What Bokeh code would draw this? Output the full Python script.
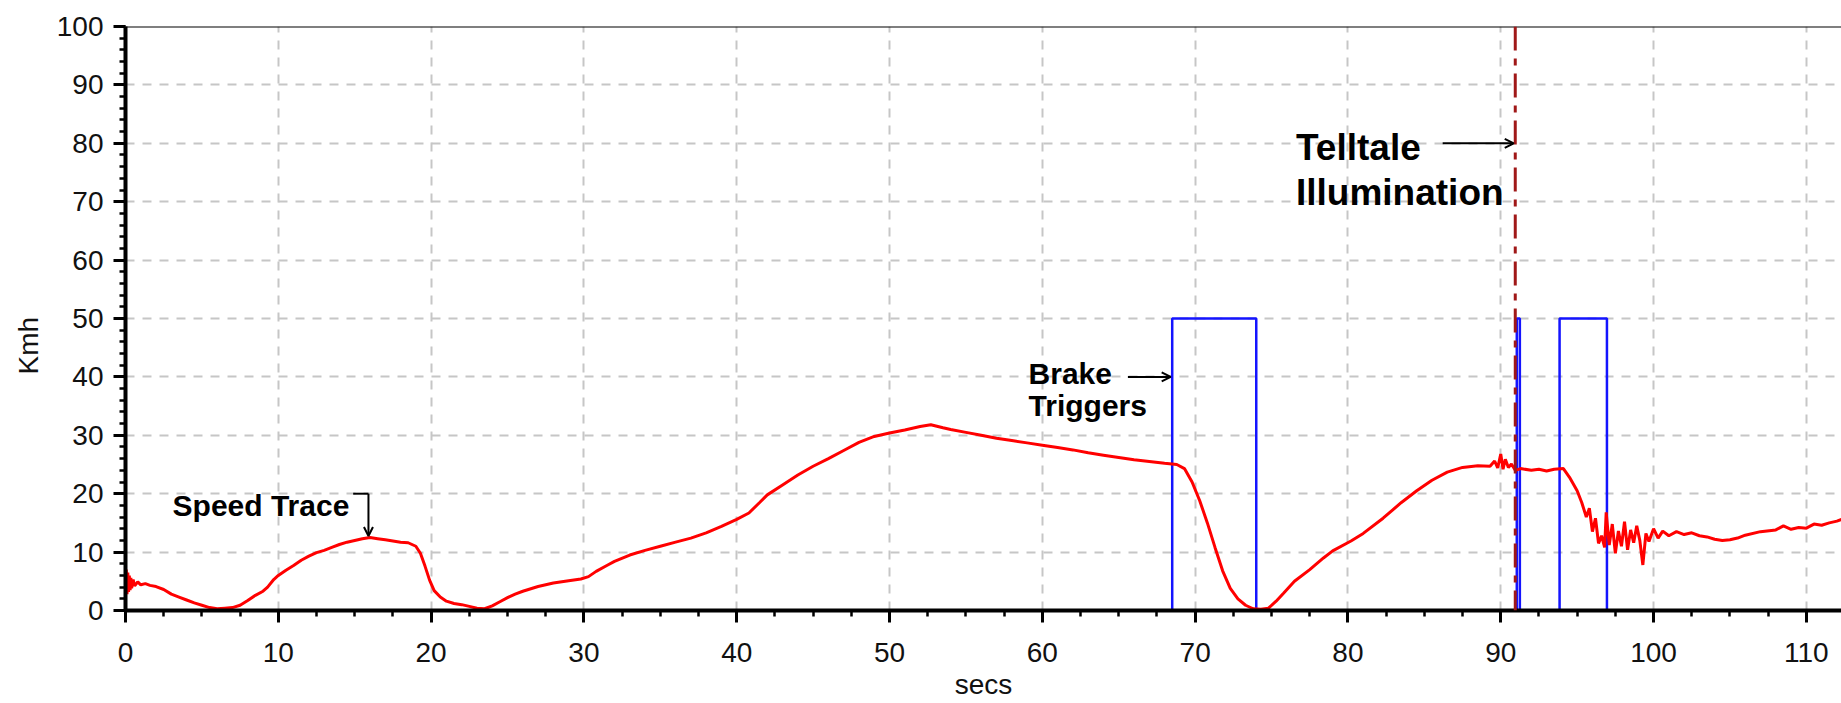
import numpy as np
from bokeh.plotting import figure
from bokeh.models import Range1d, SingleIntervalTicker, Span, Arrow, OpenHead, Title
from bokeh.core.properties import value
from bokeh.embed import file_html
from bokeh.resources import INLINE

# Vehicle speed over the run (secs, Kmh)
time_s = [
    0.0, 0.05, 0.1, 0.15, 0.2, 0.25, 0.3, 0.35, 0.4, 0.5, 0.6, 0.8, 1.0, 1.3, 1.6,
    2.0, 2.5, 3.0, 3.5, 4.0, 4.5, 5.0, 5.5, 6.0, 6.5, 7.0, 7.5, 8.0, 8.5, 9.0,
    9.3, 9.7, 10.0, 10.5, 11.0, 11.5, 12.0, 12.5, 13.0, 13.5, 14.0, 14.5, 15.0,
    15.5, 16.0, 16.5, 17.0, 17.5, 18.0, 18.5, 19.0, 19.3, 19.6, 19.9, 20.2, 20.6,
    21.0, 21.5, 22.0, 22.5, 23.0, 23.5, 24.0, 24.5, 25.0, 25.5, 26.0, 27.0, 28.0,
    29.0, 29.8, 30.3, 30.8, 31.5, 32.0, 33.0, 34.0, 35.0, 36.0, 37.0, 38.0, 39.0,
    40.0, 40.8, 41.5, 42.0, 43.0, 44.0, 45.0, 46.0, 47.0, 48.0, 49.0, 50.0, 51.0,
    52.0, 52.7, 53.5, 54.0, 55.0, 56.0, 57.0, 58.0, 59.0, 60.0, 61.0, 62.0, 63.0,
    64.0, 65.0, 66.0, 67.0, 68.0, 68.8, 69.3, 69.8, 70.3, 70.8, 71.3, 71.8, 72.3,
    72.8, 73.3, 73.8, 74.3, 74.8, 75.3, 75.8, 76.5, 77.5, 78.4, 79.0, 80.2, 81.0,
    82.3, 83.5, 84.5, 85.5, 86.5, 87.5, 88.5, 89.3, 89.6, 89.8, 90.0, 90.15, 90.3,
    90.5, 90.7, 90.95, 91.3, 92.0, 92.5, 93.0, 93.5, 94.1, 94.5, 95.0, 95.3, 95.6,
    95.8, 96.0, 96.2, 96.4, 96.6, 96.8, 96.9, 97.1, 97.3, 97.5, 97.7, 97.9, 98.1,
    98.3, 98.5, 98.7, 98.9, 99.1, 99.3, 99.5, 99.7, 100.0, 100.3, 100.6, 101.0,
    101.5, 102.0, 102.5, 103.0, 103.5, 104.0, 104.5, 105.0, 105.5, 106.0, 107.0,
    108.0, 108.5, 109.0, 109.5, 110.0, 110.5, 111.0, 111.5, 112.0, 112.3,
]
speed_kmh = [
    3.0, 7.0, 2.8, 6.5, 3.2, 6.0, 3.5, 5.6, 3.8, 5.3, 4.2, 4.9, 4.4, 4.6, 4.3,
    4.1, 3.6, 2.8, 2.3, 1.8, 1.3, 0.9, 0.5, 0.3, 0.4, 0.5, 0.9, 1.7, 2.6, 3.3,
    4.0, 5.3, 6.0, 6.9, 7.7, 8.6, 9.3, 9.9, 10.3, 10.8, 11.3, 11.7, 12.0,
    12.3, 12.5, 12.3, 12.1, 11.9, 11.7, 11.6, 11.0, 9.8, 7.6, 5.2, 3.4, 2.3,
    1.6, 1.2, 1.0, 0.7, 0.4, 0.3, 0.8, 1.5, 2.2, 2.8, 3.3, 4.1, 4.7,
    5.1, 5.4, 5.8, 6.7, 7.7, 8.4, 9.5, 10.3, 11.0, 11.7, 12.4, 13.3, 14.4,
    15.6, 16.7, 18.5, 19.8, 21.5, 23.2, 24.7, 26.0, 27.4, 28.8, 29.8, 30.4, 30.9,
    31.5, 31.8, 31.3, 31.0, 30.5, 30.0, 29.5, 29.1, 28.7, 28.3, 27.9, 27.5, 27.0,
    26.6, 26.2, 25.8, 25.5, 25.2, 25.0, 24.3, 22.0, 18.8, 15.0, 10.8, 6.8, 3.8,
    2.0, 0.9, 0.3, 0.2, 0.4, 1.6, 3.0, 5.0, 7.0, 9.0, 10.2, 11.9, 13.2,
    15.8, 18.5, 20.5, 22.3, 23.7, 24.5, 24.8, 24.7, 25.6, 24.4, 26.8, 24.2, 25.9,
    24.5, 25.1, 24.0, 24.3, 24.0, 24.2, 23.9, 24.2, 24.3, 22.8, 20.5, 18.5, 16.0,
    17.5, 13.5, 15.8, 11.5, 12.8, 10.8, 16.8, 11.2, 14.8, 9.8, 13.6, 11.0, 15.2,
    10.4, 13.8, 11.6, 14.5, 12.0, 7.8, 13.2, 11.8, 14.0, 12.4, 13.6, 12.8,
    13.5, 13.0, 13.3, 12.8, 12.6, 12.2, 12.0, 12.1, 12.4, 12.9, 13.5,
    13.8, 14.5, 13.9, 14.2, 14.1, 14.8, 14.6, 15.0, 15.3, 15.6,
]

# Brake trigger pulses (start / end in secs) and their plotted level
brake_on = [68.5, 91.05, 93.85]
brake_off = [74.0, 91.25, 96.95]
brake_level = 50

# Moment the warning telltale lights up
telltale_time = 90.95

x_max = 112.3
font = "Liberation Sans"

p = figure(
    width=1841, height=703,
    x_range=Range1d(0, x_max), y_range=Range1d(0, 100),
    output_backend="svg", toolbar_location=None,
    min_border_left=125, min_border_right=0, min_border_top=26, min_border_bottom=93,
    background_fill_color="white", border_fill_color="white",
    outline_line_color=None,
)

# axes and ticks
p.xaxis.ticker = SingleIntervalTicker(interval=10, num_minor_ticks=4)
p.yaxis.ticker = SingleIntervalTicker(interval=10, num_minor_ticks=5)
p.xgrid.ticker = SingleIntervalTicker(interval=10)
p.ygrid.ticker = SingleIntervalTicker(interval=10)
for ax in (p.xaxis, p.yaxis):
    ax.axis_line_color = "black"
    ax.axis_line_width = 4
    ax.major_tick_line_color = "black"
    ax.major_tick_line_width = 3
    ax.minor_tick_line_color = "black"
    ax.minor_tick_line_width = 2.5
    ax.major_tick_out = 12
    ax.major_tick_in = 0
    ax.minor_tick_out = 6
    ax.minor_tick_in = 0
    ax.major_label_text_font = font
    ax.major_label_text_font_size = "28px"
    ax.major_label_text_color = "#111111"
p.xaxis.major_label_standoff = 20
p.yaxis.major_label_standoff = 10

# x axis title
p.xaxis.axis_label = "secs"
p.xaxis.axis_label_text_font = font
p.xaxis.axis_label_text_font_size = "28px"
p.xaxis.axis_label_text_font_style = "normal"
p.xaxis.axis_label_text_color = "#111111"
p.xaxis.axis_label_standoff = 4

# y axis title, set a little below the middle of the axis
p.add_layout(Title(text="Kmh", align="left", offset=236, standoff=20,
                   text_font=font, text_font_size="28px", text_font_style="normal",
                   text_color="#111111"), "left")

p.grid.grid_line_color = "#c6c6c6"
p.grid.grid_line_width = 2
p.grid.grid_line_dash = "9 8"

# top border of the plotting area
p.add_layout(Span(location=100, dimension="width", line_color="black", line_width=2))

# brake trigger pulses
pulse_xs = [[a, a, b, b] for a, b in zip(brake_on, brake_off)]
pulse_ys = [[0, brake_level, brake_level, 0] for _ in brake_on]
p.multi_line(pulse_xs, pulse_ys, line_color="#1414ff", line_width=2.5)

# speed trace
p.line(time_s, speed_kmh, line_color="#ff0000", line_width=3)

# telltale marker
p.add_layout(Span(location=telltale_time, dimension="height",
                  line_color="#a01818", line_width=3, line_dash="24 8 7 8"))

# annotation labels
p.text(x=[3.08], y=[18.0], text=["Speed Trace"], text_font=value(font),
       text_font_style="bold", text_font_size="30px", text_color="black",
       text_align="left", text_baseline="alphabetic")
p.text(x=[59.1, 59.1], y=[40.6, 35.1], text=["Brake", "Triggers"], text_font=value(font),
       text_font_style="bold", text_font_size="30px", text_color="black",
       text_align="left", text_baseline="alphabetic")
p.text(x=[76.6, 76.6], y=[79.3, 71.6], text=["Telltale", "Illumination"], text_font=value(font),
       text_font_style="bold", text_font_size="37px", text_color="black",
       text_align="left", text_baseline="alphabetic")

# annotation arrows
peak_t = 15.9
peak_v = float(np.interp(peak_t, time_s, speed_kmh))
p.line([14.9, peak_t], [20, 20], line_color="black", line_width=2)
p.add_layout(Arrow(x_start=peak_t, y_start=20, x_end=peak_t, y_end=peak_v + 0.3,
                   line_color="black", line_width=2,
                   end=OpenHead(size=9, line_width=2, line_color="black")))
p.add_layout(Arrow(x_start=86.2, y_start=80, x_end=telltale_time - 0.1, y_end=80,
                   line_color="black", line_width=2,
                   end=OpenHead(size=9, line_width=2, line_color="black")))
p.add_layout(Arrow(x_start=65.6, y_start=40, x_end=brake_on[0] - 0.1, y_end=40,
                   line_color="black", line_width=2,
                   end=OpenHead(size=9, line_width=2, line_color="black")))

open("out.html", "w").write(file_html(p, INLINE))
